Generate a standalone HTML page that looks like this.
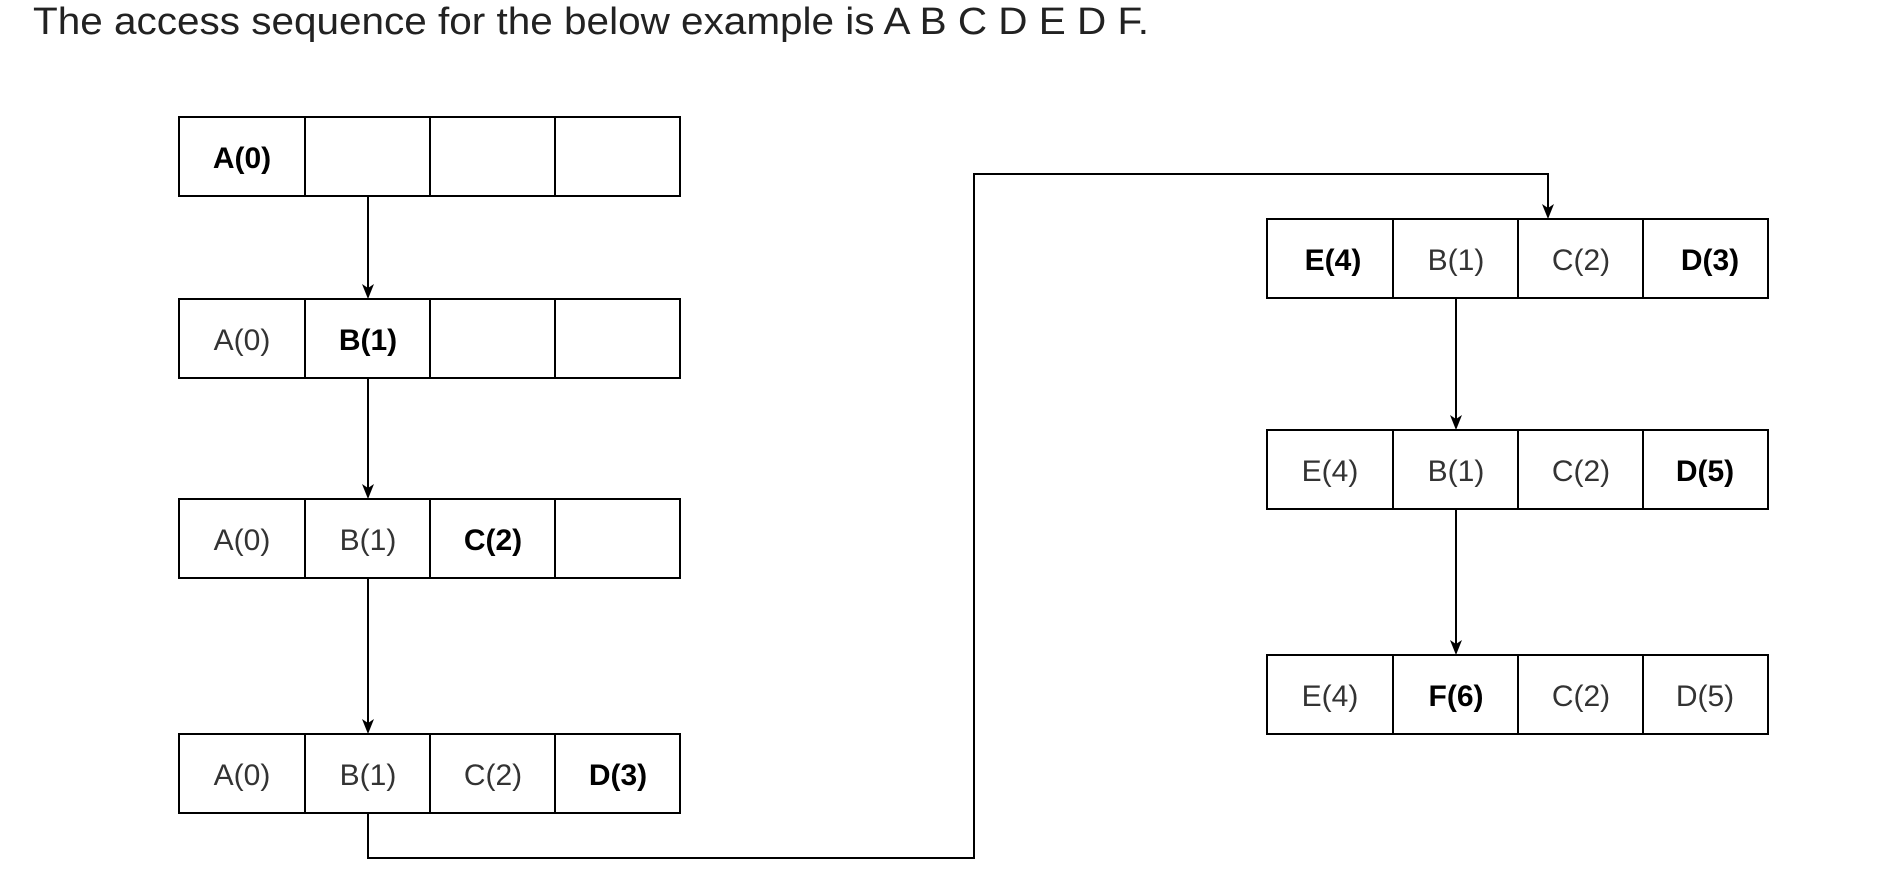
<!DOCTYPE html>
<html><head><meta charset="utf-8"><style>
html,body{margin:0;padding:0;background:#fff;}
svg{display:block;}
.n{font-family:"Liberation Sans",Arial,sans-serif;font-size:30px;fill:#333;}
.b{font-family:"Liberation Sans",Arial,sans-serif;font-size:30px;fill:#000;font-weight:bold;}
</style></head><body>
<svg width="1898" height="888" viewBox="0 0 1898 888" xmlns="http://www.w3.org/2000/svg">
<text x="33" y="34" font-family="Liberation Sans, Arial, sans-serif" font-size="38" fill="#222" textLength="1116" lengthAdjust="spacingAndGlyphs">The access sequence for the below example is A B C D E D F.</text>

<g fill="none" stroke="#000" stroke-width="2">
<rect x="179" y="117" width="501" height="79"/><line x1="305" y1="117" x2="305" y2="196"/><line x1="430" y1="117" x2="430" y2="196"/><line x1="555" y1="117" x2="555" y2="196"/>
<rect x="179" y="299" width="501" height="79"/><line x1="305" y1="299" x2="305" y2="378"/><line x1="430" y1="299" x2="430" y2="378"/><line x1="555" y1="299" x2="555" y2="378"/>
<rect x="179" y="499" width="501" height="79"/><line x1="305" y1="499" x2="305" y2="578"/><line x1="430" y1="499" x2="430" y2="578"/><line x1="555" y1="499" x2="555" y2="578"/>
<rect x="179" y="734" width="501" height="79"/><line x1="305" y1="734" x2="305" y2="813"/><line x1="430" y1="734" x2="430" y2="813"/><line x1="555" y1="734" x2="555" y2="813"/>
<rect x="1267" y="219" width="501" height="79"/><line x1="1393" y1="219" x2="1393" y2="298"/><line x1="1518" y1="219" x2="1518" y2="298"/><line x1="1643" y1="219" x2="1643" y2="298"/>
<rect x="1267" y="430" width="501" height="79"/><line x1="1393" y1="430" x2="1393" y2="509"/><line x1="1518" y1="430" x2="1518" y2="509"/><line x1="1643" y1="430" x2="1643" y2="509"/>
<rect x="1267" y="655" width="501" height="79"/><line x1="1393" y1="655" x2="1393" y2="734"/><line x1="1518" y1="655" x2="1518" y2="734"/><line x1="1643" y1="655" x2="1643" y2="734"/>
<line x1="368" y1="196" x2="368" y2="290"/>
<line x1="368" y1="378" x2="368" y2="490"/>
<line x1="368" y1="578" x2="368" y2="725"/>
<polyline points="368,813 368,858 974,858 974,174 1548,174 1548,210"/>
<line x1="1456" y1="298" x2="1456" y2="421"/>
<line x1="1456" y1="509" x2="1456" y2="646"/>
</g>
<g fill="#000">
<path d="M362,284 L368,288 L374,284 L368,299 Z"/>
<path d="M362,484 L368,488 L374,484 L368,499 Z"/>
<path d="M362,719 L368,723 L374,719 L368,734 Z"/>
<path d="M1542,204 L1548,208 L1554,204 L1548,219 Z"/>
<path d="M1450,415 L1456,419 L1462,415 L1456,430 Z"/>
<path d="M1450,640 L1456,644 L1462,640 L1456,655 Z"/>
</g>

<g text-anchor="middle">
<text class="b" x="242" y="168">A(0)</text>
<text class="n" x="242" y="350">A(0)</text><text class="b" x="368" y="350">B(1)</text>
<text class="n" x="242" y="550">A(0)</text><text class="n" x="368" y="550">B(1)</text><text class="b" x="493" y="550">C(2)</text>
<text class="n" x="242" y="785">A(0)</text><text class="n" x="368" y="785">B(1)</text><text class="n" x="493" y="785">C(2)</text><text class="b" x="618" y="785">D(3)</text>

<text class="b" x="1333" y="270">E(4)</text><text class="n" x="1456" y="270">B(1)</text><text class="n" x="1581" y="270">C(2)</text><text class="b" x="1710" y="270">D(3)</text>
<text class="n" x="1330" y="481">E(4)</text><text class="n" x="1456" y="481">B(1)</text><text class="n" x="1581" y="481">C(2)</text><text class="b" x="1705" y="481">D(5)</text>
<text class="n" x="1330" y="706">E(4)</text><text class="b" x="1456" y="706">F(6)</text><text class="n" x="1581" y="706">C(2)</text><text class="n" x="1705" y="706">D(5)</text>
</g>
</svg>
</body></html>
